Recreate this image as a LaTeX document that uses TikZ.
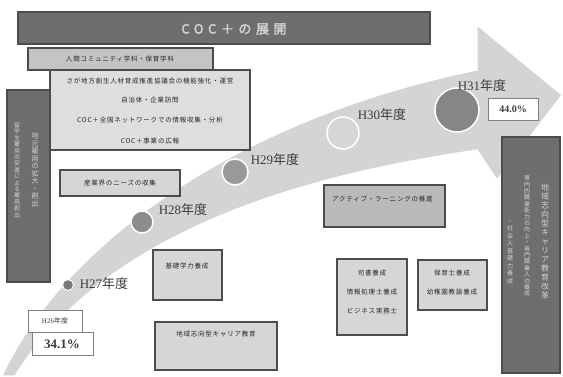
\documentclass[tikz,border=0pt]{standalone}
\usepackage{fontspec}
\setmainfont{Liberation Serif}
\newfontfamily\jp{Noto Sans CJK JP}
\newfontfamily\jps[LetterSpace=12]{Noto Sans CJK JP}
\newfontfamily\jpt[LetterSpace=35,FakeBold=2.5]{Noto Sans CJK JP}
\definecolor{bandc}{HTML}{D4D4D4}
\definecolor{darkbox}{HTML}{6E6E6E}
\definecolor{edge}{HTML}{4C4C4C}
\definecolor{lightbox}{HTML}{D6D6D6}
\definecolor{midbox}{HTML}{C4C4C4}
\definecolor{vtext}{HTML}{D2D2D2}
\definecolor{lab}{HTML}{3C3C3C}
\def\vtxgob#1{}
\def\vtxaux#1#2\vtxend{\hbox to 1em{\hss#1\hss}\ifx\relax#2\relax\expandafter\vtxgob\else\expandafter\vtxaux\fi#2\vtxend}
\newcommand\vcol[2]{\vbox{\baselineskip=#1\lineskiplimit=-20pt\lineskip=0pt\vtxaux#2\vtxend}}
\tikzset{
  boxbase/.style={rectangle, anchor=north west, inner sep=0pt, outer sep=0pt, draw=edge, line width=1.1pt},
  lbox/.style={boxbase, fill=lightbox},
  dbox/.style={boxbase, fill=darkbox},
  wbox/.style={boxbase, fill=white, draw=gray, line width=0.8pt},
  btext/.style={inner sep=0pt, font=\jps\fontsize{6.5}{7}\selectfont, text=black!85},
  vt/.style={inner sep=0pt, text=vtext},
  yr/.style={inner sep=0pt, text=lab, font=\fontsize{13}{13}\selectfont},
  dot/.style={circle, draw=white, line width=1.5pt, inner sep=0pt}
}
\begin{document}
\begin{tikzpicture}[x=1pt,y=-1pt]
\useasboundingbox[fill=white] (0,0) rectangle (563,376);
% big arrow band
\fill[bandc, draw=white, line width=1.2pt]
  (2,376) .. controls (60,250) and (230,120) .. (477,70)
  -- (477,25) -- (562,95) -- (497,180) -- (477,150)
  .. controls (380,165) and (120,205) .. (15,376) -- cycle;
% title
\node[dbox, minimum width=412pt, minimum height=32pt] (title) at (18,12) {};
\node[inner sep=0pt, text=vtext, font=\jpt\fontsize{13}{13}\selectfont] (titletext) at (234,29) {COC＋の展開};
% upper boxes
\node[boxbase, fill=midbox, minimum width=185pt, minimum height=22pt] (dept) at (28,48) {};
\node[btext] (depttext) at (120,59) {人間コミュニティ学科・保育学科};
\node[boxbase, fill=lightbox!80!white, minimum width=200pt, minimum height=80pt] (big) at (50,70) {};
\node[btext] (b1) at (150,81) {さが地方創生人材育成推進協議会の機能強化・運営};
\node[btext] (b2) at (150,100) {自治体・企業訪問};
\node[btext] (b3) at (150,120) {COC＋全国ネットワークでの情報収集・分析};
\node[btext] (b4) at (150,141) {COC＋事業の広報};
% left vertical box
\node[dbox, minimum width=43pt, minimum height=192pt] (leftv) at (7,90) {};
\node[vt] (lv1) at (35,170) {\jp\fontsize{7}{7}\selectfont\vcol{7.5pt}{地元雇用の拡大・創出}};
\node[vt] (lv2) at (17,170) {\jp\fontsize{6}{6}\selectfont\vcol{6.4pt}{留学生雇用の促進による雇用創出}};
% middle boxes
\node[lbox, minimum width=120pt, minimum height=26pt] (needs) at (60,170) {};
\node[btext] (needstext) at (120,183) {産業界のニーズの収集};
\node[lbox, minimum width=69pt, minimum height=50pt] (basic) at (153,250) {};
\node[btext] (basictext) at (187,266) {基礎学力養成};
\node[lbox, minimum width=122pt, minimum height=48pt] (career) at (155,322) {};
\node[btext] (careertext) at (216,334) {地域志向型キャリア教育};
\node[boxbase, fill=midbox!95!black, minimum width=121pt, minimum height=42pt] (active) at (324,185) {};
\node[btext, anchor=west] (activetext) at (332,199) {アクティブ・ラーニングの推進};
\node[lbox, minimum width=70pt, minimum height=76pt] (lib) at (337,259) {};
\node[btext] (l1) at (372,273) {司書養成};
\node[btext] (l2) at (372,292) {情報処理士養成};
\node[btext] (l3) at (372,311) {ビジネス実務士};
\node[lbox, minimum width=69pt, minimum height=50pt] (hoiku) at (418,260) {};
\node[btext] (h1) at (452,273) {保育士養成};
\node[btext] (h2) at (452,292) {幼稚園教諭養成};
% right vertical box
\node[dbox, minimum width=58pt, minimum height=236pt] (rightv) at (502,137) {};
\node[vt] (rv1) at (545,241) {\jp\fontsize{8}{8}\selectfont\vcol{9pt}{地域志向型キャリア教育改革}};
\node[vt] (rv2) at (527,236) {\jp\fontsize{6}{6}\selectfont\vcol{6.4pt}{専門的職業能力の向上・専門職業人の養成}};
\node[vt] (rv3) at (510,252) {\jp\fontsize{6}{6}\selectfont\vcol{7.5pt}{・社会人基礎力養成}};
% year dots
\node[dot, fill=gray!95!black, minimum size=11pt, line width=1pt] (c27) at (68,285) {};
\node[dot, fill=gray!90, minimum size=22pt] (c28) at (142,222) {};
\node[dot, fill=gray!80, minimum size=26pt] (c29) at (235,172) {};
\node[dot, fill=lightbox, minimum size=32pt] (c30) at (343,133) {};
\node[dot, fill=gray!95, minimum size=44pt] (c31) at (457,110) {};
\node[yr] (y27) at (104,284) {H27{\jp 年度}};
\node[yr] (y28) at (183,210) {H28{\jp 年度}};
\node[yr] (y29) at (275,160) {H29{\jp 年度}};
\node[yr] (y30) at (382,115) {H30{\jp 年度}};
\node[yr] (y31) at (482,86) {H31{\jp 年度}};
% percentage boxes
\node[wbox, minimum width=54pt, minimum height=22pt] (h26) at (28,310) {};
\node[inner sep=0pt, font=\fontsize{7}{7}\selectfont, text=lab] (h26t) at (55,321) {H26{\jp 年度}};
\node[wbox, minimum width=61pt, minimum height=23pt] (p26) at (32,332) {};
\node[inner sep=0pt, font=\bfseries\fontsize{13}{13}\selectfont, text=lab] (p26t) at (62,344) {34.1\%};
\node[wbox, minimum width=50pt, minimum height=22pt] (p31) at (488,98) {};
\node[inner sep=0pt, font=\bfseries\fontsize{10}{10}\selectfont, text=lab] (p31t) at (513,109) {44.0\%};
\end{tikzpicture}
\end{document}
